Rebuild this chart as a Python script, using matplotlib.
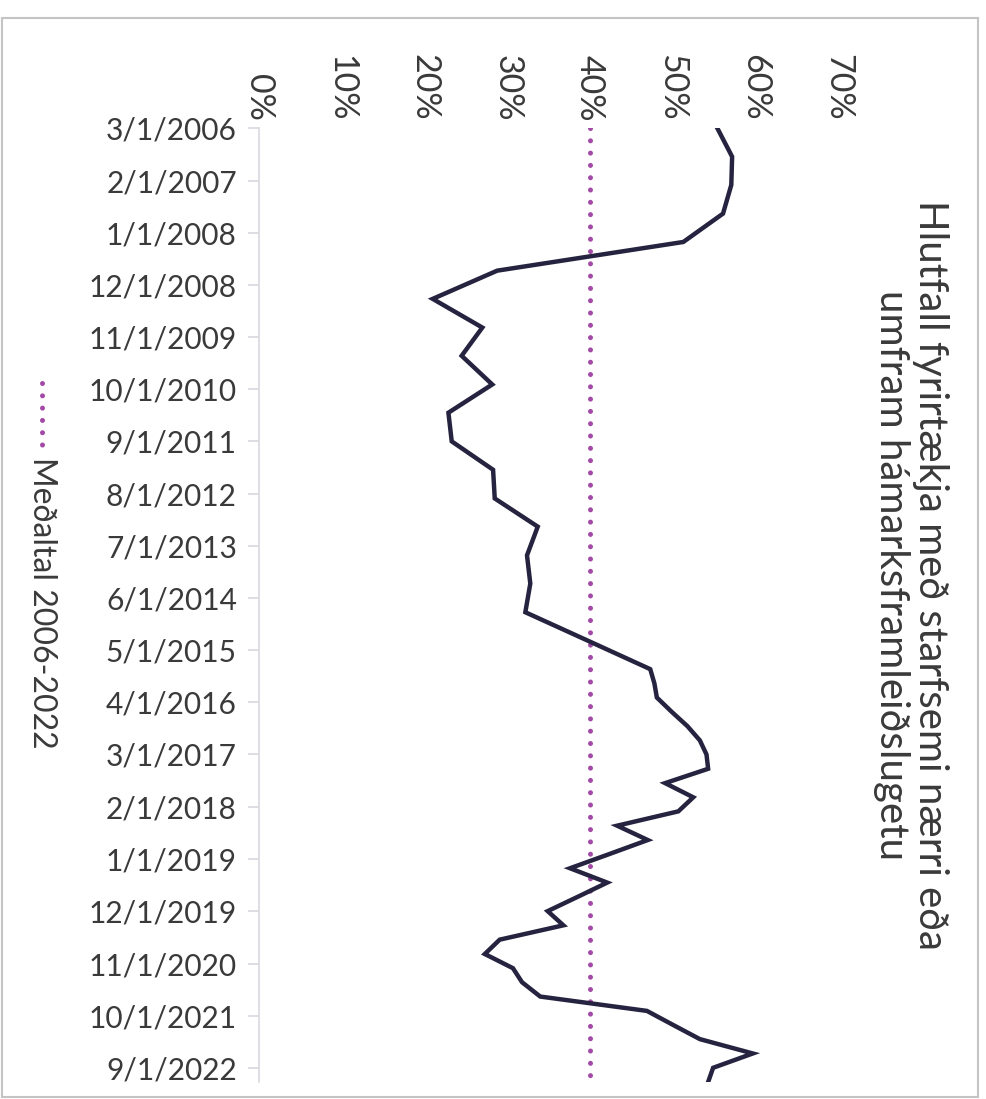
import matplotlib
matplotlib.use('Agg')
import matplotlib.pyplot as plt
from matplotlib.patches import Rectangle
from matplotlib.lines import Line2D
from matplotlib.ticker import PercentFormatter
import pandas as pd

plt.rcParams['font.family'] = ['Lato', 'DejaVu Sans']

# gögn lesin af myndinni (hálfsárs fram til 2015, svo ársfjórðungslega)
dates = ["2006-03", "2006-09", "2007-03", "2007-09", "2008-03", "2008-09",
         "2009-03", "2009-09", "2010-03", "2010-09", "2011-03", "2011-09",
         "2012-03", "2012-09", "2013-03", "2013-09", "2014-03", "2014-09",
         "2015-03", "2015-09", "2015-12", "2016-03", "2016-06", "2016-09",
         "2016-12", "2017-03", "2017-06", "2017-09", "2017-12", "2018-03",
         "2018-06", "2018-09", "2018-12", "2019-03", "2019-06", "2019-09",
         "2019-12", "2020-03", "2020-06", "2020-09", "2020-12", "2021-03",
         "2021-06", "2021-09", "2021-12", "2022-03", "2022-06", "2022-09",
         "2022-12"]
values = [55.4, 57.2, 57.1, 56.1, 51.3, 28.8,
          21.0, 27.0, 24.5, 28.2, 22.9, 23.3,
          28.3, 28.5, 33.7, 32.4, 32.8, 32.2,
          39.7, 47.3, 47.8, 48.1, 49.9, 51.8,
          53.3, 54.1, 54.3, 49.1, 52.5, 50.7,
          43.3, 47.0, 42.3, 37.6, 42.1, 38.5,
          34.9, 36.8, 29.1, 27.3, 30.7, 31.8,
          34.0, 46.9, 50.1, 53.3, 59.7, 54.9,
          54.3]
avg_value = 40.0

tick_dates = ["2006-03-01", "2007-02-01", "2008-01-01", "2008-12-01", "2009-11-01",
              "2010-10-01", "2011-09-01", "2012-08-01", "2013-07-01", "2014-06-01",
              "2015-05-01", "2016-04-01", "2017-03-01", "2018-02-01", "2019-01-01",
              "2019-12-01", "2020-11-01", "2021-10-01", "2022-09-01"]
tick_labels = ["3/1/2006", "2/1/2007", "1/1/2008", "12/1/2008", "11/1/2009",
               "10/1/2010", "9/1/2011", "8/1/2012", "7/1/2013", "6/1/2014",
               "5/1/2015", "4/1/2016", "3/1/2017", "2/1/2018", "1/1/2019",
               "12/1/2019", "11/1/2020", "10/1/2021", "9/1/2022"]
pct_ticks = [0, 10, 20, 30, 40, 50, 60, 70]

title = "Hlutfall fyrirtækja með starfsemi nærri eða\numfram hámarksframleiðslugetu"
legend_label = "Meðaltal 2006-2022"

line_color = '#25233f'
avg_color = '#a24aa6'
text_color = '#3a3a3a'
axis_color = '#d8d8e0'

W, H = 986, 1099
fig = plt.figure(figsize=(W / 100, H / 100), dpi=100)
ax = fig.add_axes([259 / W, 1 - 1082 / H, (838 - 259) / W, (1082 - 128) / H])

d = pd.to_datetime(dates)
ax.plot(values, d, color=line_color, lw=3.2, solid_joinstyle='miter', zorder=3)
ax.plot([avg_value] * len(d), d, color=avg_color, lw=3.6,
        linestyle=(0, (0.01, 2.45)), dash_capstyle='round', zorder=2)

ax.set_xlim(0, 70)
ax.set_ylim(d.max(), d.min())

ax.xaxis.tick_top()
ax.set_xticks(pct_ticks)
ax.xaxis.set_major_formatter(PercentFormatter(100, decimals=0))
ax.tick_params(axis='x', length=0, pad=5, labelrotation=-90, labelsize=24.5,
               labelcolor=text_color)

ax.set_yticks(pd.to_datetime(tick_dates))
ax.set_yticklabels(tick_labels)
ax.tick_params(axis='y', length=8, width=1.2, color=axis_color, pad=8,
               labelsize=21.5, labelcolor=text_color)

for s in ['top', 'right', 'bottom']:
    ax.spines[s].set_visible(False)
ax.spines['left'].set_color(axis_color)
ax.spines['left'].set_linewidth(1.2)

fig.text(911 / W, 1 - 575 / H, title, rotation=-90, ha='center', va='center',
         multialignment='center', fontsize=29, color=text_color, linespacing=1.05)

# skýring
fig.add_artist(Line2D([42 / W, 42 / W], [1 - 383 / H, 1 - 448 / H], transform=fig.transFigure,
                      color=avg_color, lw=3.6, linestyle=(0, (0.01, 2.45)),
                      dash_capstyle='round'))
fig.text(42 / W, 1 - 457 / H, legend_label, rotation=-90, ha='center', va='top',
         fontsize=23, color=text_color)

fig.add_artist(Rectangle((2 / W, 1 - 1097 / H), 976 / W, 1079 / H, transform=fig.transFigure,
                         fill=False, edgecolor='#c4c4c4', lw=1.5))

fig.savefig('out.png', dpi=100)
